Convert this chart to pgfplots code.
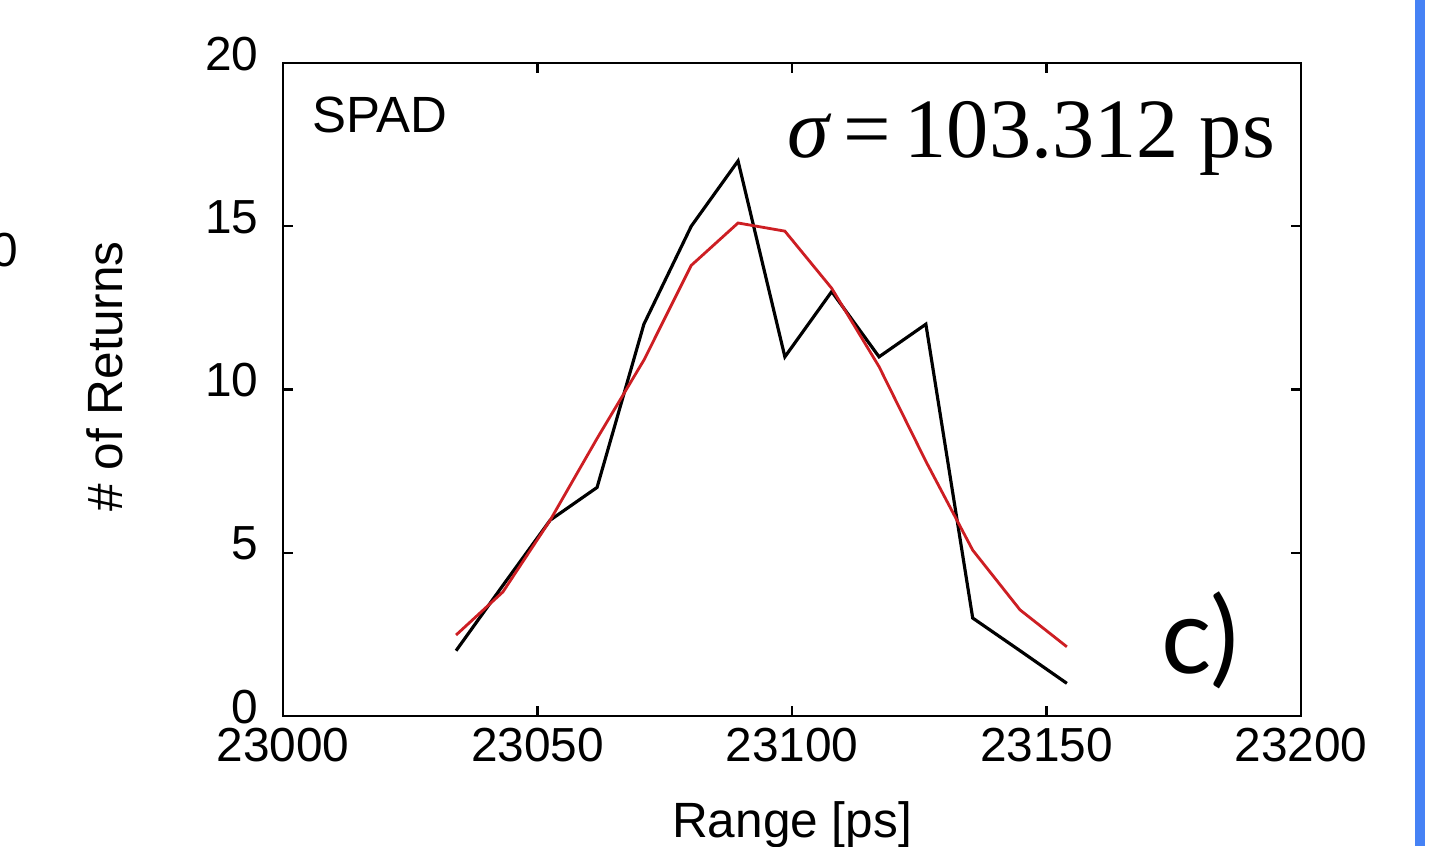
\documentclass[border=0pt]{standalone}
\usepackage{fontspec}
\setmainfont{Liberation Sans}
\newfontfamily\timesfont{Liberation Serif}
\newfontfamily\labfont{Lato}
\usepackage{pgfplots}
\pgfplotsset{compat=1.18}
\definecolor{fitred}{RGB}{205,30,35}
\definecolor{uiblue}{RGB}{70,130,245}
\begin{document}
\begin{tikzpicture}
\useasboundingbox (-2.83,-1.30) rectangle (11.47,7.16);
\begin{axis}[
  at={(0,0)}, anchor=south west,
  scale only axis, width=10.18cm, height=6.53cm,
  xmin=23000, xmax=23200, ymin=0, ymax=20,
  xtick={23000,23050,...,23200}, ytick={0,5,...,20},
  scaled x ticks=false,
  tick align=inside, major tick length=1mm,
  axis line style={line width=0.6pt},
  every tick/.style={black, line width=0.6pt},
  /pgf/number format/assume math mode=true,
  /pgf/number format/1000 sep={},
  ticklabel style={font=\fontsize{13.6}{13.6}\selectfont},
  yticklabel style={xshift=-1.2mm, yshift=0.9mm},
  xlabel={Range [ps]}, ylabel={\# of Returns},
  label style={font=\fontsize{14.1}{14.1}\selectfont},
  xlabel style={at={(axis description cs:0.5,-0.167)}, anchor=center},
  ylabel style={at={(axis description cs:-0.175,0.52)}, anchor=center},
  clip=false,
]
\addplot[black, line width=0.9pt] coordinates {
(23034.0,2) (23043.2,4) (23052.5,6) (23061.7,7) (23070.9,12) (23080.2,15)
(23089.4,17) (23098.6,11) (23107.8,13) (23117.1,11) (23126.3,12) (23135.5,3)
(23144.8,2) (23154.0,1)};
\addplot[fitred, line width=0.8pt] coordinates {
(23034.0,2.48) (23043.2,3.8) (23052.5,6.0) (23061.7,8.5) (23070.9,10.9) (23080.2,13.8)
(23089.4,15.1) (23098.6,14.85) (23107.8,13.1) (23117.1,10.7) (23126.3,7.8) (23135.5,5.08)
(23144.8,3.25) (23154.0,2.12)};
\node[anchor=west, font=\fontsize{14.5}{14.5}\selectfont] at (rel axis cs:0.017,0.92) {SPAD};
\node[anchor=center, font=\timesfont\fontsize{24}{24}\selectfont] at (rel axis cs:0.735,0.885) {{\itshape σ}\,=\,103.312 ps};
\node[anchor=center, font=\labfont\fontsize{30}{30}\selectfont] at (rel axis cs:0.901,0.116) {c)};
\end{axis}
\node[font=\fontsize{13.6}{13.6}\selectfont] at (-2.78,4.66) {0};
\fill[uiblue] (11.32,-1.30) rectangle (11.42,7.16);
\end{tikzpicture}
\end{document}
